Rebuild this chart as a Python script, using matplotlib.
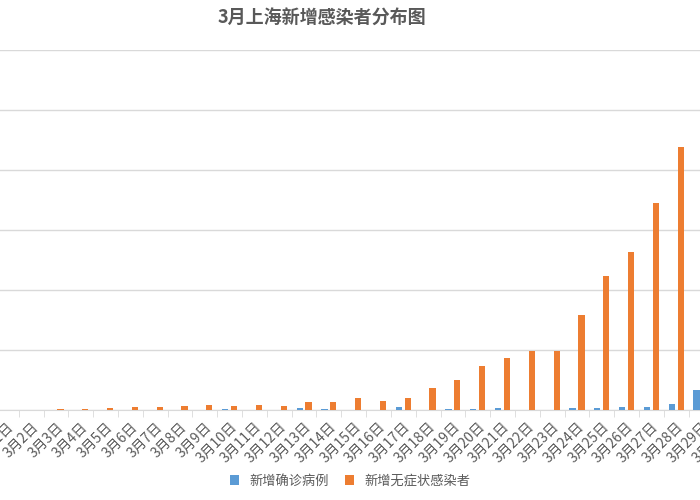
import matplotlib
matplotlib.use("Agg")
import matplotlib.pyplot as plt
import numpy as np

plt.rcParams['font.family'] = ['Noto Sans CJK SC', 'DejaVu Sans']

days = [f"3月{i}日" for i in range(1, 32)]
confirmed = [1,3,2,3,0,3,4,3,4,11,5,1,41,9,5,8,57,8,17,24,31,4,4,29,38,45,50,96,326,355,358]
asymptomatic = [1,5,14,16,28,45,51,62,76,64,78,64,128,130,197,150,203,366,492,734,865,977,979,1580,2231,2631,3450,4381,5656,5298,4144]

fig = plt.figure(figsize=(7, 5), dpi=100)
ax = fig.add_axes([-6/700, 0.18, 769/700, 0.72])
x = np.arange(len(days))
w = 0.25
ax.bar(x - 0.18, confirmed, w, color='#5B9BD5', label='新增确诊病例', zorder=3)
ax.bar(x + 0.18, asymptomatic, w, color='#ED7D31', label='新增无症状感染者', zorder=3)
ax.set_xlim(-0.5, len(days) - 0.5)
ax.set_ylim(0, 6000)
ax.set_yticks(range(0, 6001, 1000))
ax.yaxis.grid(True, color='#d9d9d9', linewidth=1, zorder=0)
ax.tick_params(axis='y', left=False, labelleft=False)
for s in ['top', 'right', 'left']:
    ax.spines[s].set_visible(False)
ax.spines['bottom'].set_color('#d9d9d9')
ax.set_xticks(x)
ax.set_xticklabels(days, rotation=45, ha='right', rotation_mode='anchor', fontsize=10, color='#595959')
ax.tick_params(axis='x', length=0, pad=7)
ax.set_xticks(np.arange(-0.5, len(days), 1), minor=True)
ax.tick_params(axis='x', which='minor', length=5, color='#d9d9d9')
fig.text(322/700, 1 - 18/500, '3月上海新增感染者分布图', ha='center', va='center', fontsize=13, fontweight='bold', color='#595959')
fig.legend(loc='center', bbox_to_anchor=(350/700, 1 - 481/500), ncol=2, frameon=False, fontsize=9.5, handlelength=0.7, handleheight=0.7, columnspacing=1.2, labelcolor='#595959')
fig.savefig('out.png', dpi=100)
